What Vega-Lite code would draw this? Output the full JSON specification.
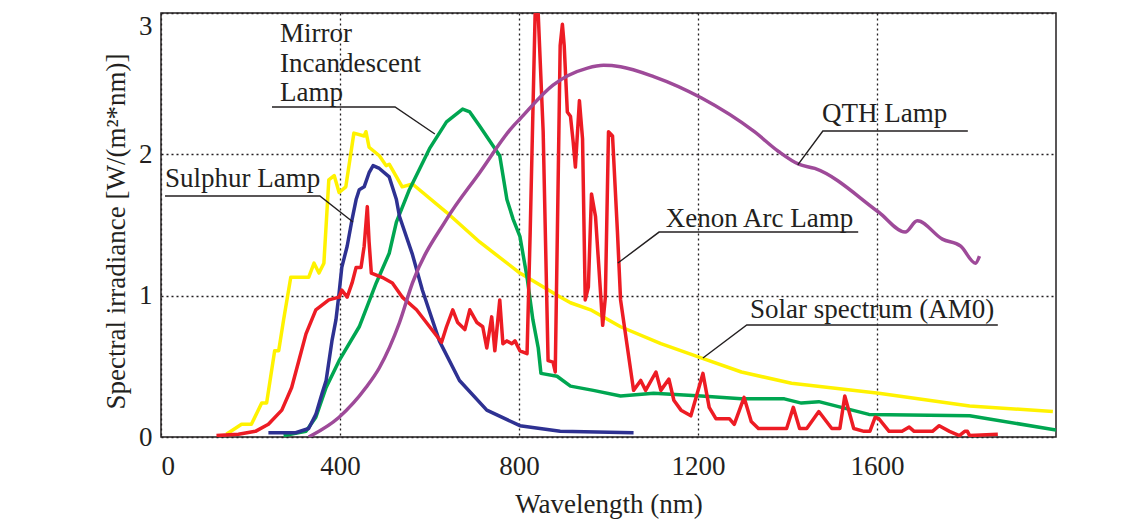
{
  "$schema": "https://vega.github.io/schema/vega-lite/v6.json",
  "width": 895,
  "height": 424,
  "autosize": "none",
  "padding": {"left": 161, "top": 13, "right": 84, "bottom": 83},
  "background": "white",
  "config": {
    "view": {"stroke": "#231f20", "strokeWidth": 1.5},
    "font": "Liberation Serif"
  },
  "datasets": {
    "curves": [
        {"s": "Solar", "x": 146, "y": 0.02}, {"s": "Solar", "x": 180, "y": 0.09}, {"s": "Solar", "x": 202, "y": 0.09},
        {"s": "Solar", "x": 225, "y": 0.24}, {"s": "Solar", "x": 236, "y": 0.24}, {"s": "Solar", "x": 254, "y": 0.61},
        {"s": "Solar", "x": 263, "y": 0.61}, {"s": "Solar", "x": 274, "y": 0.83}, {"s": "Solar", "x": 290, "y": 1.13},
        {"s": "Solar", "x": 330, "y": 1.13}, {"s": "Solar", "x": 342, "y": 1.23}, {"s": "Solar", "x": 353, "y": 1.16},
        {"s": "Solar", "x": 364, "y": 1.23}, {"s": "Solar", "x": 375, "y": 1.82}, {"s": "Solar", "x": 387, "y": 1.85},
        {"s": "Solar", "x": 398, "y": 1.73}, {"s": "Solar", "x": 413, "y": 1.77}, {"s": "Solar", "x": 431, "y": 2.15},
        {"s": "Solar", "x": 454, "y": 2.13}, {"s": "Solar", "x": 458, "y": 2.16}, {"s": "Solar", "x": 465, "y": 2.05},
        {"s": "Solar", "x": 488, "y": 1.99}, {"s": "Solar", "x": 503, "y": 1.92}, {"s": "Solar", "x": 510, "y": 1.93},
        {"s": "Solar", "x": 539, "y": 1.77}, {"s": "Solar", "x": 562, "y": 1.79}, {"s": "Solar", "x": 638, "y": 1.59},
        {"s": "Solar", "x": 712, "y": 1.38}, {"s": "Solar", "x": 802, "y": 1.16}, {"s": "Solar", "x": 892, "y": 0.99},
        {"s": "Solar", "x": 915, "y": 0.95}, {"s": "Solar", "x": 960, "y": 0.9}, {"s": "Solar", "x": 1027, "y": 0.78},
        {"s": "Solar", "x": 1117, "y": 0.66}, {"s": "Solar", "x": 1207, "y": 0.56}, {"s": "Solar", "x": 1297, "y": 0.46},
        {"s": "Solar", "x": 1409, "y": 0.38}, {"s": "Solar", "x": 1604, "y": 0.31}, {"s": "Solar", "x": 1807, "y": 0.22},
        {"s": "Solar", "x": 1993, "y": 0.18},

        {"s": "QTH", "x": 330, "y": 0.0}, {"s": "QTH", "x": 398, "y": 0.14}, {"s": "QTH", "x": 458, "y": 0.35},
        {"s": "QTH", "x": 488, "y": 0.49}, {"s": "QTH", "x": 533, "y": 0.81}, {"s": "QTH", "x": 562, "y": 1.09},
        {"s": "QTH", "x": 638, "y": 1.54}, {"s": "QTH", "x": 712, "y": 1.87}, {"s": "QTH", "x": 787, "y": 2.2},
        {"s": "QTH", "x": 802, "y": 2.25}, {"s": "QTH", "x": 876, "y": 2.49}, {"s": "QTH", "x": 953, "y": 2.61},
        {"s": "QTH", "x": 989, "y": 2.63}, {"s": "QTH", "x": 1027, "y": 2.62}, {"s": "QTH", "x": 1101, "y": 2.55},
        {"s": "QTH", "x": 1207, "y": 2.4}, {"s": "QTH", "x": 1326, "y": 2.16}, {"s": "QTH", "x": 1380, "y": 2.02},
        {"s": "QTH", "x": 1425, "y": 1.93}, {"s": "QTH", "x": 1461, "y": 1.9}, {"s": "QTH", "x": 1604, "y": 1.59},
        {"s": "QTH", "x": 1663, "y": 1.45}, {"s": "QTH", "x": 1690, "y": 1.53}, {"s": "QTH", "x": 1746, "y": 1.4},
        {"s": "QTH", "x": 1787, "y": 1.35}, {"s": "QTH", "x": 1820, "y": 1.23}, {"s": "QTH", "x": 1829, "y": 1.28},

        {"s": "Mirror", "x": 274, "y": 0.01}, {"s": "Mirror", "x": 324, "y": 0.04}, {"s": "Mirror", "x": 346, "y": 0.14},
        {"s": "Mirror", "x": 369, "y": 0.35}, {"s": "Mirror", "x": 398, "y": 0.54}, {"s": "Mirror", "x": 443, "y": 0.78},
        {"s": "Mirror", "x": 481, "y": 1.09}, {"s": "Mirror", "x": 510, "y": 1.3}, {"s": "Mirror", "x": 526, "y": 1.52},
        {"s": "Mirror", "x": 555, "y": 1.75}, {"s": "Mirror", "x": 600, "y": 2.04}, {"s": "Mirror", "x": 638, "y": 2.23},
        {"s": "Mirror", "x": 674, "y": 2.32}, {"s": "Mirror", "x": 690, "y": 2.3}, {"s": "Mirror", "x": 712, "y": 2.2},
        {"s": "Mirror", "x": 757, "y": 1.99}, {"s": "Mirror", "x": 773, "y": 1.68}, {"s": "Mirror", "x": 787, "y": 1.54},
        {"s": "Mirror", "x": 802, "y": 1.42}, {"s": "Mirror", "x": 818, "y": 1.13}, {"s": "Mirror", "x": 831, "y": 0.83},
        {"s": "Mirror", "x": 843, "y": 0.63}, {"s": "Mirror", "x": 849, "y": 0.45}, {"s": "Mirror", "x": 885, "y": 0.43},
        {"s": "Mirror", "x": 915, "y": 0.36}, {"s": "Mirror", "x": 966, "y": 0.33}, {"s": "Mirror", "x": 1027, "y": 0.29},
        {"s": "Mirror", "x": 1101, "y": 0.31}, {"s": "Mirror", "x": 1207, "y": 0.29}, {"s": "Mirror", "x": 1297, "y": 0.27},
        {"s": "Mirror", "x": 1393, "y": 0.27}, {"s": "Mirror", "x": 1431, "y": 0.24}, {"s": "Mirror", "x": 1470, "y": 0.25},
        {"s": "Mirror", "x": 1582, "y": 0.16}, {"s": "Mirror", "x": 1807, "y": 0.15}, {"s": "Mirror", "x": 2000, "y": 0.05},

        {"s": "Sulphur", "x": 240, "y": 0.03}, {"s": "Sulphur", "x": 301, "y": 0.03}, {"s": "Sulphur", "x": 330, "y": 0.06},
        {"s": "Sulphur", "x": 346, "y": 0.16}, {"s": "Sulphur", "x": 360, "y": 0.31}, {"s": "Sulphur", "x": 369, "y": 0.4},
        {"s": "Sulphur", "x": 382, "y": 0.68}, {"s": "Sulphur", "x": 391, "y": 0.83}, {"s": "Sulphur", "x": 398, "y": 1.02},
        {"s": "Sulphur", "x": 404, "y": 1.2}, {"s": "Sulphur", "x": 416, "y": 1.35}, {"s": "Sulphur", "x": 427, "y": 1.54},
        {"s": "Sulphur", "x": 436, "y": 1.68}, {"s": "Sulphur", "x": 443, "y": 1.75}, {"s": "Sulphur", "x": 454, "y": 1.77},
        {"s": "Sulphur", "x": 465, "y": 1.87}, {"s": "Sulphur", "x": 474, "y": 1.92}, {"s": "Sulphur", "x": 488, "y": 1.9},
        {"s": "Sulphur", "x": 510, "y": 1.84}, {"s": "Sulphur", "x": 526, "y": 1.68}, {"s": "Sulphur", "x": 533, "y": 1.56},
        {"s": "Sulphur", "x": 562, "y": 1.29}, {"s": "Sulphur", "x": 584, "y": 1.04}, {"s": "Sulphur", "x": 622, "y": 0.68},
        {"s": "Sulphur", "x": 667, "y": 0.4}, {"s": "Sulphur", "x": 728, "y": 0.19}, {"s": "Sulphur", "x": 802, "y": 0.08},
        {"s": "Sulphur", "x": 892, "y": 0.04}, {"s": "Sulphur", "x": 1056, "y": 0.03},

        {"s": "Xenon", "x": 124, "y": 0.01}, {"s": "Xenon", "x": 173, "y": 0.02}, {"s": "Xenon", "x": 211, "y": 0.04},
        {"s": "Xenon", "x": 240, "y": 0.09}, {"s": "Xenon", "x": 270, "y": 0.19}, {"s": "Xenon", "x": 292, "y": 0.35},
        {"s": "Xenon", "x": 308, "y": 0.54}, {"s": "Xenon", "x": 324, "y": 0.73}, {"s": "Xenon", "x": 346, "y": 0.9},
        {"s": "Xenon", "x": 375, "y": 0.97}, {"s": "Xenon", "x": 398, "y": 0.99}, {"s": "Xenon", "x": 404, "y": 1.04},
        {"s": "Xenon", "x": 416, "y": 0.99}, {"s": "Xenon", "x": 427, "y": 1.09}, {"s": "Xenon", "x": 436, "y": 1.2},
        {"s": "Xenon", "x": 447, "y": 1.2}, {"s": "Xenon", "x": 454, "y": 1.35}, {"s": "Xenon", "x": 461, "y": 1.63},
        {"s": "Xenon", "x": 465, "y": 1.38}, {"s": "Xenon", "x": 470, "y": 1.16}, {"s": "Xenon", "x": 494, "y": 1.13},
        {"s": "Xenon", "x": 517, "y": 1.09}, {"s": "Xenon", "x": 539, "y": 0.99}, {"s": "Xenon", "x": 571, "y": 0.9},
        {"s": "Xenon", "x": 593, "y": 0.81}, {"s": "Xenon", "x": 627, "y": 0.67}, {"s": "Xenon", "x": 638, "y": 0.78},
        {"s": "Xenon", "x": 652, "y": 0.9}, {"s": "Xenon", "x": 663, "y": 0.81}, {"s": "Xenon", "x": 679, "y": 0.76},
        {"s": "Xenon", "x": 690, "y": 0.9}, {"s": "Xenon", "x": 706, "y": 0.81}, {"s": "Xenon", "x": 719, "y": 0.78},
        {"s": "Xenon", "x": 728, "y": 0.63}, {"s": "Xenon", "x": 739, "y": 0.85}, {"s": "Xenon", "x": 746, "y": 0.61},
        {"s": "Xenon", "x": 757, "y": 0.97}, {"s": "Xenon", "x": 764, "y": 0.66}, {"s": "Xenon", "x": 773, "y": 0.68},
        {"s": "Xenon", "x": 784, "y": 0.66}, {"s": "Xenon", "x": 791, "y": 0.68}, {"s": "Xenon", "x": 802, "y": 0.61},
        {"s": "Xenon", "x": 818, "y": 0.59}, {"s": "Xenon", "x": 825, "y": 1.45}, {"s": "Xenon", "x": 836, "y": 2.99},
        {"s": "Xenon", "x": 843, "y": 2.99}, {"s": "Xenon", "x": 854, "y": 2.16}, {"s": "Xenon", "x": 865, "y": 0.54},
        {"s": "Xenon", "x": 876, "y": 0.53}, {"s": "Xenon", "x": 881, "y": 0.46}, {"s": "Xenon", "x": 888, "y": 1.92},
        {"s": "Xenon", "x": 892, "y": 2.77}, {"s": "Xenon", "x": 897, "y": 2.92}, {"s": "Xenon", "x": 901, "y": 2.77},
        {"s": "Xenon", "x": 908, "y": 2.3}, {"s": "Xenon", "x": 915, "y": 2.27}, {"s": "Xenon", "x": 921, "y": 2.09},
        {"s": "Xenon", "x": 926, "y": 1.91}, {"s": "Xenon", "x": 935, "y": 2.38}, {"s": "Xenon", "x": 942, "y": 2.11},
        {"s": "Xenon", "x": 948, "y": 0.97}, {"s": "Xenon", "x": 955, "y": 1.06}, {"s": "Xenon", "x": 962, "y": 1.72},
        {"s": "Xenon", "x": 971, "y": 1.56}, {"s": "Xenon", "x": 987, "y": 0.79}, {"s": "Xenon", "x": 993, "y": 0.99},
        {"s": "Xenon", "x": 1000, "y": 2.16}, {"s": "Xenon", "x": 1009, "y": 2.13}, {"s": "Xenon", "x": 1020, "y": 1.45},
        {"s": "Xenon", "x": 1027, "y": 0.97}, {"s": "Xenon", "x": 1056, "y": 0.33}, {"s": "Xenon", "x": 1072, "y": 0.4},
        {"s": "Xenon", "x": 1083, "y": 0.33}, {"s": "Xenon", "x": 1106, "y": 0.46}, {"s": "Xenon", "x": 1117, "y": 0.33},
        {"s": "Xenon", "x": 1135, "y": 0.41}, {"s": "Xenon", "x": 1146, "y": 0.26}, {"s": "Xenon", "x": 1162, "y": 0.19},
        {"s": "Xenon", "x": 1184, "y": 0.15}, {"s": "Xenon", "x": 1211, "y": 0.45}, {"s": "Xenon", "x": 1225, "y": 0.21},
        {"s": "Xenon", "x": 1240, "y": 0.13}, {"s": "Xenon", "x": 1270, "y": 0.13}, {"s": "Xenon", "x": 1281, "y": 0.09},
        {"s": "Xenon", "x": 1303, "y": 0.28}, {"s": "Xenon", "x": 1319, "y": 0.11}, {"s": "Xenon", "x": 1335, "y": 0.06},
        {"s": "Xenon", "x": 1398, "y": 0.06}, {"s": "Xenon", "x": 1413, "y": 0.21}, {"s": "Xenon", "x": 1427, "y": 0.06},
        {"s": "Xenon", "x": 1443, "y": 0.06}, {"s": "Xenon", "x": 1470, "y": 0.18}, {"s": "Xenon", "x": 1499, "y": 0.06},
        {"s": "Xenon", "x": 1517, "y": 0.06}, {"s": "Xenon", "x": 1528, "y": 0.29}, {"s": "Xenon", "x": 1548, "y": 0.06},
        {"s": "Xenon", "x": 1571, "y": 0.04}, {"s": "Xenon", "x": 1584, "y": 0.04}, {"s": "Xenon", "x": 1596, "y": 0.14},
        {"s": "Xenon", "x": 1604, "y": 0.13}, {"s": "Xenon", "x": 1627, "y": 0.04}, {"s": "Xenon", "x": 1656, "y": 0.04},
        {"s": "Xenon", "x": 1672, "y": 0.07}, {"s": "Xenon", "x": 1683, "y": 0.04}, {"s": "Xenon", "x": 1724, "y": 0.04},
        {"s": "Xenon", "x": 1739, "y": 0.08}, {"s": "Xenon", "x": 1762, "y": 0.04}, {"s": "Xenon", "x": 1784, "y": 0.01},
        {"s": "Xenon", "x": 1796, "y": 0.04}, {"s": "Xenon", "x": 1802, "y": 0.04}, {"s": "Xenon", "x": 1807, "y": 0.01},
        {"s": "Xenon", "x": 1870, "y": 0.02}
    ],
    "leaders": [
        {"g": "m", "x": 248, "y": 2.335}, {"g": "m", "x": 523, "y": 2.335}, {"g": "m", "x": 612, "y": 2.144},
        {"g": "s", "x": 9, "y": 1.705}, {"g": "s", "x": 355, "y": 1.705}, {"g": "s", "x": 429, "y": 1.521},
        {"g": "q", "x": 1423, "y": 1.925}, {"g": "q", "x": 1479, "y": 2.165}, {"g": "q", "x": 1803, "y": 2.165},
        {"g": "x", "x": 1021, "y": 1.231}, {"g": "x", "x": 1113, "y": 1.45}, {"g": "x", "x": 1558, "y": 1.45},
        {"g": "a", "x": 1211, "y": 0.559}, {"g": "a", "x": 1309, "y": 0.792}, {"g": "a", "x": 1870, "y": 0.792}
    ],
    "labels": [
        {"t": "Mirror", "x": 266, "y": 2.795},
        {"t": "Incandescent", "x": 266, "y": 2.583},
        {"t": "Lamp", "x": 266, "y": 2.377},
        {"t": "Sulphur Lamp", "x": 9, "y": 1.769},
        {"t": "QTH Lamp", "x": 1477, "y": 2.229},
        {"t": "Xenon Arc Lamp", "x": 1128, "y": 1.486},
        {"t": "Solar spectrum (AM0)", "x": 1316, "y": 0.842}
    ]
  },
  "encoding": {
    "x": {
      "field": "x", "type": "quantitative",
      "scale": {"domain": [0, 2000], "nice": false, "zero": false},
      "axis": {
        "values": [0, 400, 800, 1200, 1600], "format": "d",
        "grid": true, "gridDash": [2, 3], "gridColor": "#231f20", "gridWidth": 1.3, "gridOpacity": 1,
        "domain": false, "ticks": false,
        "labelFontSize": 27, "labelColor": "#231f20", "labelPadding": 16, "labelFont": "Liberation Serif",
        "title": "Wavelength (nm)", "titleFontSize": 27, "titleFontWeight": "normal", "titleColor": "#231f20",
        "titleFont": "Liberation Serif", "titlePadding": 12
      }
    },
    "y": {
      "field": "y", "type": "quantitative",
      "scale": {"domain": [0, 3], "nice": false, "zero": false},
      "axis": {
        "values": [0, 1, 2, 3], "format": "d",
        "grid": true, "gridDash": [2, 3], "gridColor": "#231f20", "gridWidth": 1.3, "gridOpacity": 1,
        "domain": false, "ticks": false,
        "labelFontSize": 27, "labelColor": "#231f20", "labelPadding": 9, "labelFont": "Liberation Serif",
        "labelBaseline": {"condition": {"test": "datum.value === 3", "value": "top"}, "value": "middle"},
        "title": "Spectral irradiance [W/(m²*nm)]", "titleFontSize": 27, "titleFontWeight": "normal",
        "titleColor": "#231f20", "titleFont": "Liberation Serif", "titlePadding": 8, "titleY": 218
      }
    }
  },
  "layer": [
    {
      "data": {"name": "curves"},
      "transform": [{"filter": "datum.s !== 'QTH'"}],
      "mark": {"type": "line", "strokeWidth": 3.5, "strokeJoin": "round", "clip": true},
      "encoding": {
        "color": {
          "field": "s", "type": "nominal",
          "scale": {
            "domain": ["Solar", "QTH", "Mirror", "Sulphur", "Xenon"],
            "range": ["#FFF200", "#9E4A99", "#00A651", "#2E3192", "#ED1C24"]
          },
          "legend": null
        }
      }
    },
    {
      "data": {"name": "curves"},
      "transform": [{"filter": "datum.s === 'QTH'"}],
      "mark": {"type": "line", "strokeWidth": 3.5, "strokeJoin": "round", "interpolate": "monotone", "clip": true, "color": "#9E4A99"},
      "encoding": {}
    },
    {
      "data": {"name": "leaders"},
      "mark": {"type": "line", "color": "#231f20", "strokeWidth": 1.4},
      "encoding": {"detail": {"field": "g", "type": "nominal"}}
    },
    {
      "data": {"name": "labels"},
      "mark": {"type": "text", "align": "left", "baseline": "alphabetic", "fontSize": 27, "font": "Liberation Serif", "color": "#231f20"},
      "encoding": {"text": {"field": "t", "type": "nominal"}}
    }
  ]
}
